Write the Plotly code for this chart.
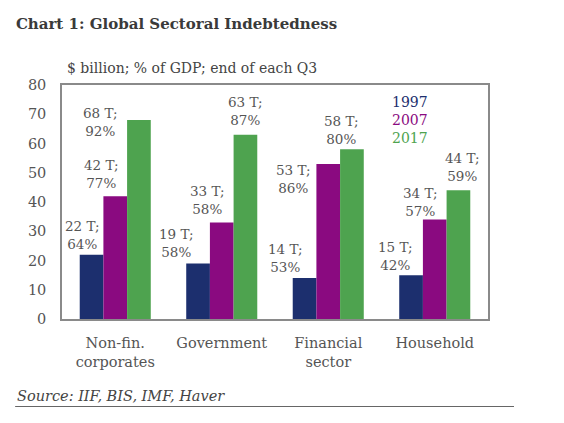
import plotly.graph_objects as go

# data
sectors = ["Non-fin.<br>corporates", "Government", "Financial<br>sector", "Household"]
years = ["1997", "2007", "2017"]
debt_1997 = [22, 19, 14, 15]
debt_2007 = [42, 33, 53, 34]
debt_2017 = [68, 63, 58, 44]
gdp_1997 = [64, 58, 53, 42]
gdp_2007 = [77, 58, 86, 57]
gdp_2017 = [92, 87, 80, 59]

colors = ["#1c2f6e", "#8a0a80", "#4ea34f"]
font_family = "DejaVu Serif"
text_grey = "#555555"

debt = [debt_1997, debt_2007, debt_2017]
gdp = [gdp_1997, gdp_2007, gdp_2017]

# label offsets (px) from bar centre / bar top, per year then sector
label_dx = [[-9, -22, -19, -16], [-14, -14, -35, -14], [-38, 0, -10, 4]]
label_dy = [[20, 20, 20, 19], [22, 22, -15, 18], [-2, 24, 19, 23]]
bar_px = 23.7

fig = go.Figure()
for i, yr in enumerate(years):
    fig.add_trace(go.Bar(x=sectors, y=debt[i], name=yr, marker_color=colors[i],
                         marker_line_width=0, showlegend=False))

annotations = []
for i in range(3):
    for j, s in enumerate(sectors):
        annotations.append(dict(
            x=s, y=debt[i][j], xref="x", yref="y",
            text=f"{debt[i][j]} T;<br>{gdp[i][j]}%",
            showarrow=False, xanchor="center", yanchor="middle",
            xshift=(i - 1) * bar_px + label_dx[i][j], yshift=label_dy[i][j],
            font=dict(family=font_family, size=13.5, color=text_grey),
        ))

# legend as coloured text
for i, yr in enumerate(years):
    annotations.append(dict(x=0.817, y=0.927 - i * 0.077, xref="paper", yref="paper",
                            text=yr, showarrow=False, xanchor="center", yanchor="middle",
                            font=dict(family=font_family, size=14, color=colors[i])))

annotations.append(dict(x=0.007, y=1.073, xref="paper", yref="paper",
                        text="$ billion; % of GDP; end of each Q3", showarrow=False,
                        xanchor="left", yanchor="middle",
                        font=dict(family=font_family, size=14, color="#444444")))
annotations.append(dict(x=-0.110, y=-0.33, xref="paper", yref="paper",
                        text="<i>Source: IIF, BIS, IMF, Haver</i>", showarrow=False,
                        xanchor="left", yanchor="middle",
                        font=dict(family=font_family, size=14.5, color="#444444")))

# page has an 8px body margin, so the figure is nudged up/left by that much
fig.update_layout(
    width=564, height=423,
    margin=dict(l=54, r=84, t=77, b=112),
    paper_bgcolor="white", plot_bgcolor="white",
    barmode="group", bargap=0.333, bargroupgap=0,
    title=dict(text="<b>Chart 1: Global Sectoral Indebtedness</b>",
               x=0.014, xanchor="left", y=0.963, yanchor="middle",
               font=dict(family=font_family, size=15, color="#3a3a3a")),
    annotations=annotations,
    shapes=[dict(type="line", xref="paper", yref="paper", x0=-0.110, x1=1.061,
                 y0=-0.374, y1=-0.374, line=dict(color="#666666", width=1.2))],
    xaxis=dict(showline=True, linecolor="#8a8a8a", linewidth=1.5, mirror=True,
               showgrid=False, ticks="", ticklabelstandoff=10,
               tickfont=dict(family=font_family, size=14.5, color=text_grey)),
    yaxis=dict(range=[0, 80], dtick=10, showline=True, linecolor="#8a8a8a",
               linewidth=1.5, mirror=True, showgrid=False, zeroline=False,
               ticks="", ticklabelstandoff=11,
               tickfont=dict(family=font_family, size=14.5, color=text_grey)),
)

fig.write_html("out.html")
